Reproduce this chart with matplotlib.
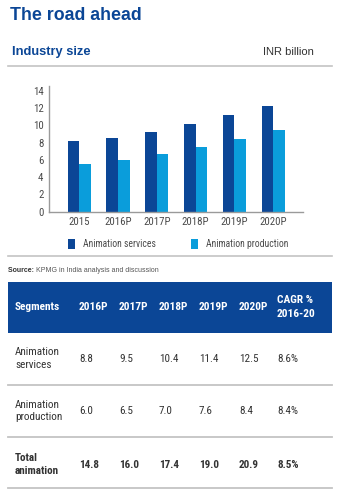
import matplotlib.pyplot as plt
import numpy as np

# industry size, INR billion
years = ['2015', '2016P', '2017P', '2018P', '2019P', '2020P']
services = [8.2, 8.6, 9.3, 10.2, 11.2, 12.3]
production = [5.5, 6.0, 6.7, 7.5, 8.4, 9.5]

# segment table
table_cols = ['Segments', '2016P', '2017P', '2018P', '2019P', '2020P', 'CAGR %\n2016-20']
table_rows = [
    ['Animation\nservices', '8.8', '9.5', '10.4', '11.4', '12.5', '8.6%'],
    ['Animation\nproduction', '6.0', '6.5', '7.0', '7.6', '8.4', '8.4%'],
    ['Total\nanimation', '14.8', '16.0', '17.4', '19.0', '20.9', '8.5%'],
]

dark_blue = '#0b4696'
light_blue = '#0a9ddb'
head_blue = '#0b4696'
grey_txt = '#4a4a4a'
rule = '#c4c4c4'

plain = ['Liberation Sans', 'DejaVu Sans']
cond = ['Roboto Condensed', 'DejaVu Sans']

W, H = 343, 500
fig = plt.figure(figsize=(W / 100, H / 100), dpi=100)
fig.patch.set_facecolor('white')

# page layer in pixel coordinates
page = fig.add_axes([0, 0, 1, 1])
page.set_xlim(0, W)
page.set_ylim(H, 0)
page.axis('off')

page.text(10, 20.5, 'The road ahead', fontsize=12.8, fontweight='bold', color=head_blue,
          family=plain, va='baseline')
page.text(12, 55, 'Industry size', fontsize=9.3, fontweight='bold', color=head_blue,
          family=plain, va='baseline')
page.text(314, 55, 'INR billion', fontsize=8, color='#333333', family=plain,
          ha='right', va='baseline')
page.plot([8, 332], [65.7, 65.7], color=rule, lw=1.2)
page.plot([8, 332], [256, 256], color=rule, lw=1.2)

src = page.text(8, 274, 'Source: ', fontsize=5, fontweight='bold', color='#333333',
                family=plain, va='bottom')
page.annotate('KPMG in India analysis and discussion', xy=(1, 0), xycoords=src,
              fontsize=5, color='#555555', family=plain, va='bottom', ha='left')

# table
page.add_patch(plt.Rectangle((8, 281.7), 324, 51, color=head_blue, lw=0))
col_x = [15, 79, 119, 159, 199, 239, 277]
for x, lab in zip(col_x, table_cols):
    page.text(x, 307, lab, fontsize=8.2, fontweight='bold', color='white',
              family=cond, va='center', ha='left', linespacing=1.4)

row_y = [358.5, 411, 464.5]
for y, row in zip(row_y, table_rows):
    bold = row[0].startswith('Total')
    for x, val in zip(col_x, row):
        page.text(x, y, val, fontsize=8, color='#333333', family=cond,
                  fontweight='bold' if bold else 'normal', va='center', ha='left',
                  linespacing=1.35)
for y in [385, 436.7, 487.7]:
    page.plot([8, 332], [y, y], color=rule, lw=1.3)

# bar chart
ax = fig.add_axes([49 / W, 1 - 211.7 / H, 254 / W, (211.7 - 86) / H])
x = np.arange(len(years))
bw = 0.30
ax.bar(x - bw / 2, services, bw, color=dark_blue, label='Animation services')
ax.bar(x + bw / 2, production, bw, color=light_blue, label='Animation production')
ax.set_xlim(-0.78, 5.77)
ax.set_ylim(0, 14.58)
ax.set_yticks(range(0, 15, 2))
ax.set_xticks(x)
ax.set_xticklabels(years)
ax.tick_params(length=0, labelsize=7.8, labelcolor=grey_txt, pad=4)
for lab in ax.get_xticklabels() + ax.get_yticklabels():
    lab.set_family(cond)
for s in ['top', 'right']:
    ax.spines[s].set_visible(False)
for s in ['left', 'bottom']:
    ax.spines[s].set_color('#9a9a9a')
    ax.spines[s].set_linewidth(1.0)

leg = ax.legend(loc='upper left', bbox_to_anchor=(0.041, -0.15), ncol=2, frameon=False,
                handlelength=0.74, handleheight=1.1, handletextpad=0.85, columnspacing=3.6,
                prop={'family': cond, 'size': 6.9})
for t in leg.get_texts():
    t.set_color(grey_txt)

fig.savefig('out.png', dpi=100)
